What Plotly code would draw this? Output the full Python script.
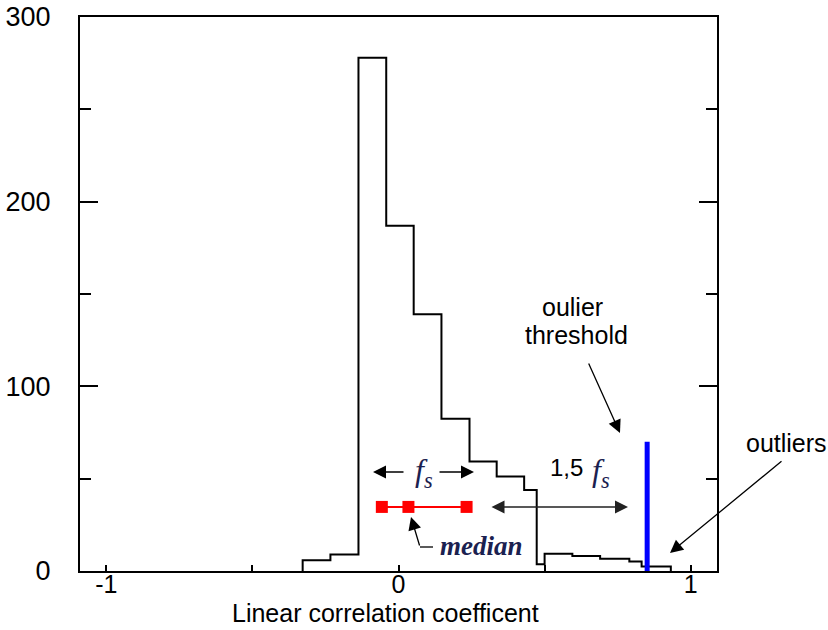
import plotly.graph_objects as go

# ---- data ----
bin_edges = [-0.328, -0.233, -0.137, -0.042, 0.052, 0.147, 0.243, 0.336,
             0.430, 0.473, 0.500, 0.595, 0.690, 0.790, 0.832, 0.932]
bin_counts = [5.8, 9.0, 278, 187, 139, 82.5, 59.3, 51.2,
              43.8, 3.6, 9.4, 8.1, 6.7, 5.2, 2.5]
fs_x = [-0.057, 0.034, 0.233]   # f_s range start, median, f_s range end
fs_y = [34.7, 34.7, 34.7]
threshold_x = 0.851
threshold_top = 70
x_tick_vals = [-1, 0, 1]
x_tick_text = ["-1", "0", "1"]
y_tick_vals = [0, 100, 200, 300]
y_tick_text = ["0", "100", "200", "300"]

# step outline of the histogram
step_x = [bin_edges[0]]
step_y = [0]
for i, c in enumerate(bin_counts):
    step_x += [bin_edges[i], bin_edges[i + 1]]
    step_y += [c, c]
step_x.append(bin_edges[-1])
step_y.append(0)

SANS = "Liberation Sans, Arial, sans-serif"
SERIF = "Liberation Serif, Times New Roman, serif"
NAVY = "#1b2150"

fig = go.Figure()
fig.add_trace(go.Scatter(x=step_x, y=step_y, mode="lines",
                         line=dict(color="black", width=2),
                         hoverinfo="skip", showlegend=False))
fig.add_trace(go.Scatter(x=[threshold_x, threshold_x], y=[0, threshold_top],
                         mode="lines", line=dict(color="#0000ff", width=5),
                         showlegend=False))
fig.add_trace(go.Scatter(x=fs_x, y=fs_y, mode="lines+markers",
                         line=dict(color="#ff0000", width=2),
                         marker=dict(symbol="square", size=12, color="#ff0000"),
                         showlegend=False))

W, H = 828, 630
L, R, T, B = 80, 111, 17, 59
xr = [-1.09, 1.09]
yr = [0, 300]
pw = W - L - R
ph = H - T - B


def px2x(px):
    return xr[0] + (px - L) / pw * (xr[1] - xr[0])


def py2y(py):
    return yr[0] + (H - B - py) / ph * (yr[1] - yr[0])


def arrow(hx, hy, tx, ty, color="black", side="end", width=1.3):
    fig.add_annotation(x=px2x(hx), y=py2y(hy), xref="x", yref="y",
                       ax=tx - hx, ay=ty - hy, axref="pixel", ayref="pixel",
                       text="", showarrow=True, arrowhead=2, arrowsize=2.0,
                       arrowwidth=width, arrowcolor=color, arrowside=side)


def text(px, py, s, size=25, family=SANS, color="black"):
    fig.add_annotation(x=(px - L) / pw, y=(H - B - py) / ph, xref="paper",
                       yref="paper", text=s, showarrow=False,
                       font=dict(family=family, size=size, color=color),
                       xanchor="center", yanchor="middle")


# f_s arrows and label
arrow(373, 472, 405, 472)
arrow(474, 472, 438, 472)
text(424, 472, "<i>f</i><sub><i>s</i></sub>", size=32, family=SERIF, color=NAVY)

# 1,5 f_s double arrow and label
fig.add_annotation(x=px2x(628), y=py2y(507), xref="x", yref="y",
                   ax=490 - 628, ay=0, axref="pixel", ayref="pixel",
                   text="", showarrow=True, arrowhead=2, arrowsize=2.0,
                   arrowwidth=1.3, arrowcolor="#222", arrowside="end+start",
                   startarrowhead=2, startarrowsize=2.0)
text(566, 467, "1,5", size=24)
text(601, 472, "<i>f</i><sub><i>s</i></sub>", size=32, family=SERIF, color=NAVY)

# median label with elbow arrow
text(481, 546, "<b><i>median</i></b>", size=27, family=SERIF, color=NAVY)
arrow(411, 517, 420, 547)
fig.add_shape(type="line", x0=px2x(420), x1=px2x(433), y0=py2y(547),
              y1=py2y(547), xref="x", yref="y",
              line=dict(color="black", width=1.3))

# outlier threshold
text(572, 307, "oulier", size=25)
text(576, 335, "threshold", size=25)
arrow(620, 433, 588, 362)

# outliers
text(786, 443, "outliers", size=25)
arrow(670, 553, 783, 460)

# axis title
text(385, 613, "Linear correlation coefficent", size=25)

fig.update_layout(
    width=W, height=H,
    margin=dict(l=L, r=R, t=T, b=B, autoexpand=False),
    paper_bgcolor="white", plot_bgcolor="white",
    showlegend=False,
    xaxis=dict(range=xr, tickvals=x_tick_vals, ticktext=x_tick_text,
               ticks="inside", ticklen=6, tickwidth=1.5, tickcolor="black",
               minor=dict(tickvals=[-0.5, 0.5], ticks="inside", ticklen=6,
                          tickwidth=1.5, tickcolor="black"),
               showline=True, linecolor="black", linewidth=2, mirror=True,
               showgrid=False, zeroline=False, automargin=False,
               ticklabelstandoff=-10,
               tickfont=dict(family=SANS, size=25, color="black")),
    yaxis=dict(range=yr, tickvals=y_tick_vals, ticktext=y_tick_text,
               ticks="inside", ticklen=18, tickwidth=2, tickcolor="black",
               minor=dict(tickvals=[50, 150, 250], ticks="inside", ticklen=11,
                          tickwidth=2, tickcolor="black"),
               showline=True, linecolor="black", linewidth=2, mirror="ticks",
               showgrid=False, zeroline=False, ticklabelstandoff=22,
               automargin=False,
               tickfont=dict(family=SANS, size=27, color="black")),
)

fig.write_html(
    "out.html",
    config={"displayModeBar": False},
    post_script="document.body.style.margin='0px';"
                "document.body.style.overflow='hidden';",
)
